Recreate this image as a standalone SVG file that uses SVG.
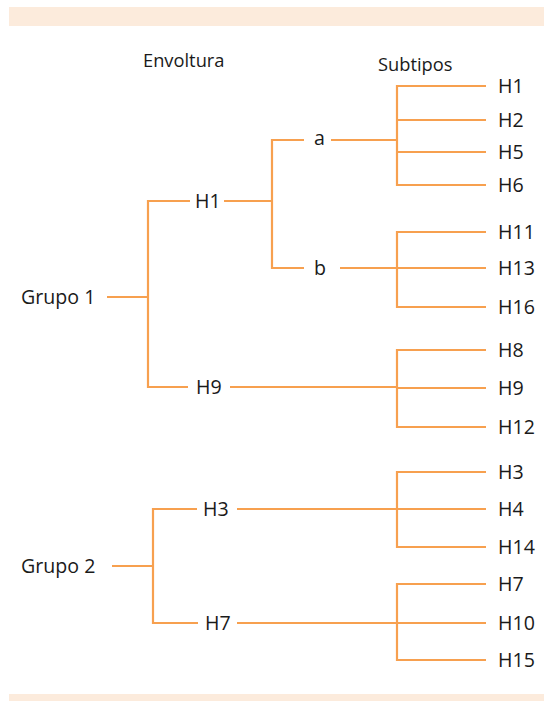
<svg xmlns="http://www.w3.org/2000/svg" width="544" height="701" viewBox="0 0 544 701">
<style>
.ln{fill:none;stroke:#F7A04F;stroke-width:2.2;stroke-linecap:butt;stroke-linejoin:miter}
.t{font-family:"Open Sans","Noto Sans",sans-serif;font-size:19.6px;fill:#1a1a1a}
.h{font-family:"Open Sans","Noto Sans",sans-serif;font-size:18.3px;fill:#1a1a1a}
</style>
<rect x="0" y="0" width="544" height="701" fill="#ffffff"/>
<rect x="9" y="7" width="535" height="19" fill="#FCEBDC"/>
<rect x="9" y="694" width="535" height="7" fill="#FCEBDC"/>
<g id="headers">
<text class="h" x="143" y="67">Envoltura</text>
<text class="h" x="378" y="71">Subtipos</text>
</g>
<g id="connectors">
<path class="ln" d="M107,297 H148 M190,201 H148 V387 H188 M230,387 H397"/>
<path class="ln" d="M224,201 H272 M304,140 H272 V268 H304"/>
<path class="ln" d="M331,140 H397 M486,86 H397 V185 H486 M397,120 H486 M397,152 H486"/>
<path class="ln" d="M340,268 H486 M486,232 H397 V307 H486"/>
<path class="ln" d="M486,350 H397 V427 H486 M397,388 H486"/>
<path class="ln" d="M112,566 H153 M197,509 H153 V623 H198 M237,509 H486 M486,472 H397 V547 H486"/>
<path class="ln" d="M237,623 H486 M486,584 H397 V660 H486"/>
</g>
<g id="grupo1"><text class="t" x="21" y="304">Grupo 1</text></g>
<g id="grupo2"><text class="t" x="21" y="573">Grupo 2</text></g>
<g id="env-H1"><text class="t" x="195" y="208">H1</text></g>
<g id="env-a"><text class="t" x="314" y="145">a</text></g>
<g id="env-b"><text class="t" x="314" y="275">b</text></g>
<g id="env-H9"><text class="t" x="196" y="394">H9</text></g>
<g id="env-H3"><text class="t" x="203" y="516">H3</text></g>
<g id="env-H7"><text class="t" x="205" y="630">H7</text></g>
<g id="sub-H1"><text class="t" x="498" y="93">H1</text></g>
<g id="sub-H2"><text class="t" x="498" y="127">H2</text></g>
<g id="sub-H5"><text class="t" x="498" y="159">H5</text></g>
<g id="sub-H6"><text class="t" x="498" y="192">H6</text></g>
<g id="sub-H11"><text class="t" x="498" y="239">H11</text></g>
<g id="sub-H13"><text class="t" x="498" y="275">H13</text></g>
<g id="sub-H16"><text class="t" x="498" y="314">H16</text></g>
<g id="sub-H8"><text class="t" x="498" y="357">H8</text></g>
<g id="sub-H9"><text class="t" x="498" y="395">H9</text></g>
<g id="sub-H12"><text class="t" x="498" y="434">H12</text></g>
<g id="sub-H3"><text class="t" x="498" y="479">H3</text></g>
<g id="sub-H4"><text class="t" x="498" y="516">H4</text></g>
<g id="sub-H14"><text class="t" x="498" y="554">H14</text></g>
<g id="sub-H7"><text class="t" x="498" y="591">H7</text></g>
<g id="sub-H10"><text class="t" x="498" y="630">H10</text></g>
<g id="sub-H15"><text class="t" x="498" y="667">H15</text></g>
</svg>
